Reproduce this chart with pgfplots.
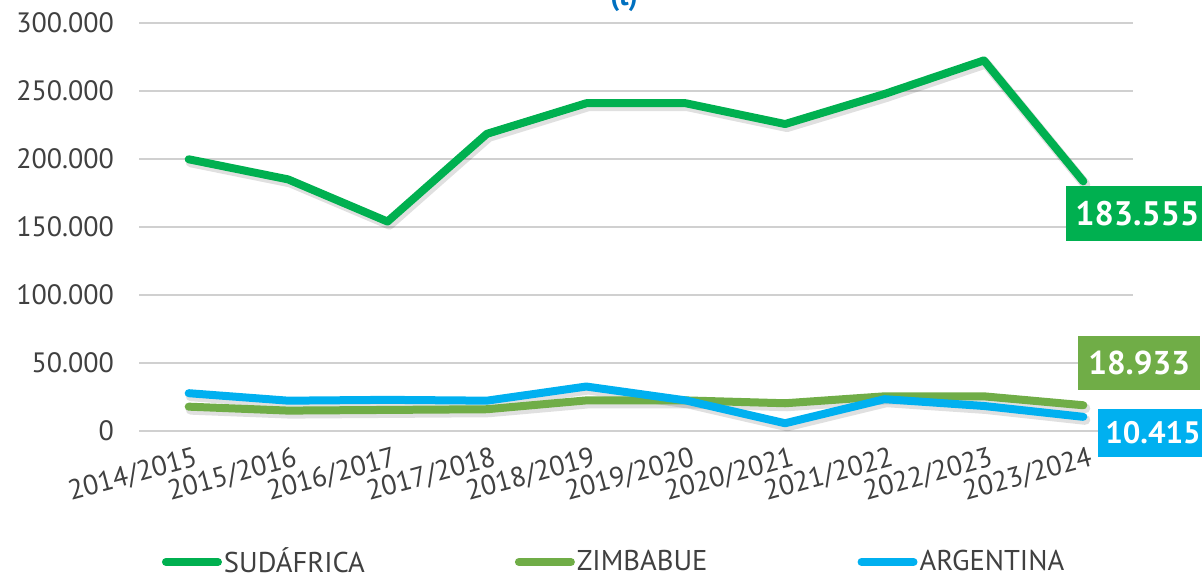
\documentclass[border=0pt]{standalone}
\usepackage{pgfplots}
\pgfplotsset{compat=1.18}
\usepackage{fontspec}
\setmainfont{PT Sans}
\definecolor{cSud}{HTML}{00B050}
\definecolor{cZim}{HTML}{70AD47}
\definecolor{cArg}{HTML}{00B0F0}
\definecolor{cTxt}{HTML}{404040}
\definecolor{cGrid}{HTML}{D0D0D0}
\definecolor{cTitle}{HTML}{0070C0}
\begin{document}
\begin{tikzpicture}
\useasboundingbox (-69.5pt,-71pt) rectangle (531.5pt,215.5pt);
\begin{axis}[
  at={(0,0)}, anchor=south west,
  scale only axis, width=497pt, height=204pt,
  xmin=-0.5, xmax=9.5, ymin=0, ymax=300000,
  xtick={0,...,9},
  xticklabels={2014/2015,2015/2016,2016/2017,2017/2018,2018/2019,2019/2020,2020/2021,2021/2022,2022/2023,2023/2024},
  ytick={0,50000,100000,150000,200000,250000,300000},
  scaled y ticks=false,
  /pgf/number format/fixed,
  /pgf/number format/1000 sep={.},
  /pgf/number format/assume math mode=true,
  yticklabel style={font=\fontsize{14}{16}\selectfont, text=cTxt, xshift=-9pt},
  xticklabel style={font=\fontsize{14}{16}\selectfont, text=cTxt, rotate=15, anchor=north east, inner sep=1pt, xshift=1.5pt, yshift=-7pt},
  axis line style={draw=none},
  major tick length=0pt,
  ymajorgrids, grid style={cGrid, line width=1pt},
  clip=false,
  legend columns=3,
  legend style={at={(0.479,-0.321)}, anchor=center, draw=none, fill=none,
    font=\fontsize{14.3}{16}\selectfont, text=cTxt,
    /tikz/every even column/.append style={column sep=73pt},
    /tikz/every odd column/.append style={column sep=-1pt},
    legend cell align=left, inner sep=0pt},
  legend image code/.code={\draw[line width=4pt, line cap=round] (0pt,0pt) -- (26pt,0pt);},
  every axis plot/.append style={line width=4pt, line join=round, line cap=round},
]
% shadows
\addplot[forget plot, black, opacity=0.12, line width=5pt, transform canvas={shift={(1pt,-1.5pt)}}] coordinates {
(0,199800) (1,185000) (2,154000) (3,218500) (4,241000) (5,241000) (6,225700) (7,247800) (8,272500) (9,183555)};
\addplot[forget plot, black, opacity=0.12, line width=5pt, transform canvas={shift={(1pt,-1.5pt)}}] coordinates {
(0,17900) (1,15000) (2,15500) (3,16000) (4,22500) (5,22500) (6,20400) (7,25500) (8,25500) (9,18933)};
\addplot[forget plot, black, opacity=0.12, line width=5pt, transform canvas={shift={(1pt,-1.5pt)}}] coordinates {
(0,27800) (1,22300) (2,22900) (3,22300) (4,32700) (5,22500) (6,5700) (7,23400) (8,18400) (9,10415)};
% series
\addplot[cSud] coordinates {
(0,199800) (1,185000) (2,154000) (3,218500) (4,241000) (5,241000) (6,225700) (7,247800) (8,272500) (9,183555)}
 node[pos=1, anchor=north west, xshift=-10.5pt, yshift=-0.5pt, fill=cSud, text=white, inner xsep=4.5pt, minimum height=27.5pt, font=\fontsize{17}{19}\bfseries] {183.555};
\addlegendentry{SUDÁFRICA}
\addplot[cZim] coordinates {
(0,17900) (1,15000) (2,15500) (3,16000) (4,22500) (5,22500) (6,20400) (7,25500) (8,25500) (9,18933)}
 node[pos=1, anchor=south west, xshift=-4.5pt, yshift=5.5pt, fill=cZim, text=white, inner xsep=5pt, minimum height=27pt, font=\fontsize{16.5}{19}\bfseries] {18.933};
\addlegendentry{ZIMBABUE}
\addplot[cArg] coordinates {
(0,27800) (1,22300) (2,22900) (3,22300) (4,32700) (5,22500) (6,5700) (7,23400) (8,18400) (9,10415)}
 node[pos=1, anchor=west, xshift=5.5pt, yshift=-8pt, fill=cArg, text=white, inner xsep=3.5pt, minimum height=24pt, font=\fontsize{15.5}{19}\bfseries] {10.415};
\addlegendentry{ARGENTINA}
\node[anchor=base, text=cTitle, font=\fontsize{14}{16}\bfseries] at (rel axis cs:0.488,1.044) {(t)};
\end{axis}
\end{tikzpicture}
\end{document}
